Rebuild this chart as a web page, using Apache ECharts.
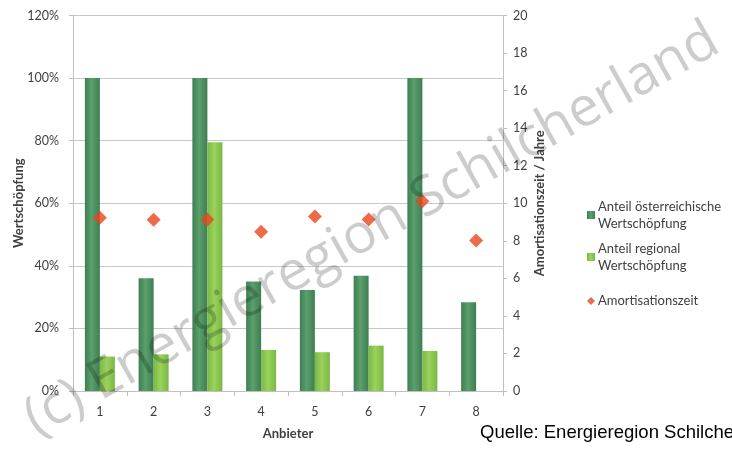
<!DOCTYPE html>
<html>
<head>
<meta charset="utf-8">
<script src="https://cdn.jsdelivr.net/npm/echarts@6/dist/echarts.min.js"></script>
<style>html,body{margin:0;padding:0;background:#fff}#c{width:732px;height:451px}</style>
</head>
<body>
<div id="c"></div>
<script>
var categories = ['1','2','3','4','5','6','7','8'];
var anteilOesterreich = [1.00, 0.36, 1.00, 0.35, 0.323, 0.368, 1.00, 0.284];
var anteilRegional = [0.11, 0.117, 0.795, 0.131, 0.124, 0.145, 0.128, null];
var amortisationszeit = [9.23, 9.12, 9.14, 8.48, 9.3, 9.14, 10.1, 8.02];
var seriesNames = ['Anteil österreichische\nWertschöpfung', 'Anteil regional\nWertschöpfung', 'Amortisationszeit'];

var FONT = 'Lato';
var txt = '#404040';
var chart = echarts.init(document.getElementById('c'), null, {renderer: 'canvas'});

function cyl(a, b) {
  return new echarts.graphic.LinearGradient(0, 0, 1, 0, [
    {offset: 0, color: a}, {offset: 0.45, color: b}, {offset: 1, color: a}
  ]);
}
var darkCol = cyl('#3f7e52', '#5aa06c');
var lightCol = cyl('#79b845', '#9ad25c');

function legendAt(name, top, two) {
  return {
    data: [name], orient: 'vertical', left: 582, top: top,
    itemWidth: 8, itemHeight: 8, itemGap: 0,
    icon: name === 'Amortisationszeit' ? 'diamond' : 'rect',
    textStyle: {fontFamily: FONT, fontSize: 13, color: txt, lineHeight: 17, padding: two ? [17, 0, 0, -2] : [0, 0, 0, -2]},
    selectedMode: false
  };
}

chart.setOption({
  animation: false,
  textStyle: {fontFamily: FONT},
  grid: {left: 73, right: 229, top: 15.5, bottom: 60, containLabel: false, outerBoundsMode: 'none'},
  legend: [
    legendAt(seriesNames[0], 184.5, true),
    legendAt(seriesNames[1], 226.5, true),
    legendAt(seriesNames[2], 287.5, false)
  ],
  xAxis: {
    type: 'category', data: categories,
    name: 'Anbieter', nameLocation: 'middle', nameGap: 36,
    nameTextStyle: {fontFamily: FONT, fontSize: 13, fontWeight: 'bold', color: txt},
    axisLine: {lineStyle: {color: '#bfbfbf'}},
    axisTick: {show: true, length: 5, lineStyle: {color: '#bfbfbf'}},
    axisLabel: {fontFamily: FONT, fontSize: 12.5, color: txt, margin: 14}
  },
  yAxis: [{
    type: 'value', min: 0, max: 1.2, interval: 0.2,
    name: 'Wertschöpfung', nameLocation: 'middle', nameGap: 48, nameRotate: 90, nameMoveOverlap: false,
    nameTextStyle: {fontFamily: FONT, fontSize: 13, fontWeight: 'bold', color: txt},
    axisLine: {show: true, lineStyle: {color: '#bfbfbf'}},
    axisTick: {show: true, length: 4, lineStyle: {color: '#bfbfbf'}},
    axisLabel: {fontFamily: FONT, fontSize: 12.5, color: txt, margin: 14,
      formatter: function (v) { return Math.round(v * 100) + '%'; }},
    splitLine: {lineStyle: {color: '#c8c8c8'}}
  }, {
    type: 'value', min: 0, max: 20, interval: 2, position: 'right',
    name: 'Amortisationszeit / Jahre', nameLocation: 'middle', nameGap: 30, nameRotate: 90, nameMoveOverlap: false,
    nameTextStyle: {fontFamily: FONT, fontSize: 13, fontWeight: 'bold', color: txt},
    axisLine: {show: true, lineStyle: {color: '#bfbfbf'}},
    axisTick: {show: true, length: 4, lineStyle: {color: '#bfbfbf'}},
    axisLabel: {fontFamily: FONT, fontSize: 12.5, color: txt, margin: 10},
    splitLine: {show: false}
  }],
  series: [{
    name: seriesNames[0], type: 'bar', data: anteilOesterreich,
    barWidth: 15, barGap: '0%',
    itemStyle: {color: darkCol}
  }, {
    name: seriesNames[1], type: 'bar', data: anteilRegional,
    barWidth: 15,
    itemStyle: {color: lightCol}
  }, {
    name: seriesNames[2], type: 'scatter', yAxisIndex: 1, data: amortisationszeit,
    symbol: 'diamond', symbolSize: 14, z: 5,
    itemStyle: {color: '#e8461e'}
  }],
  graphic: [{
    type: 'text', left: 480, top: 423,
    style: {text: 'Quelle: Energieregion Schilcherland', font: '18.5px "Liberation Sans", Arial, sans-serif', fill: '#000'}
  }, {
    type: 'text', x: 372, y: 230, rotation: 29.4 * Math.PI / 180, z: 100,
    style: {text: '(c) Energieregion Schilcherland', font: '55px "Open Sans", sans-serif',
      fill: 'rgba(0,0,0,0.2)', align: 'center', verticalAlign: 'middle'}
  }]
});
</script>
</body>
</html>
